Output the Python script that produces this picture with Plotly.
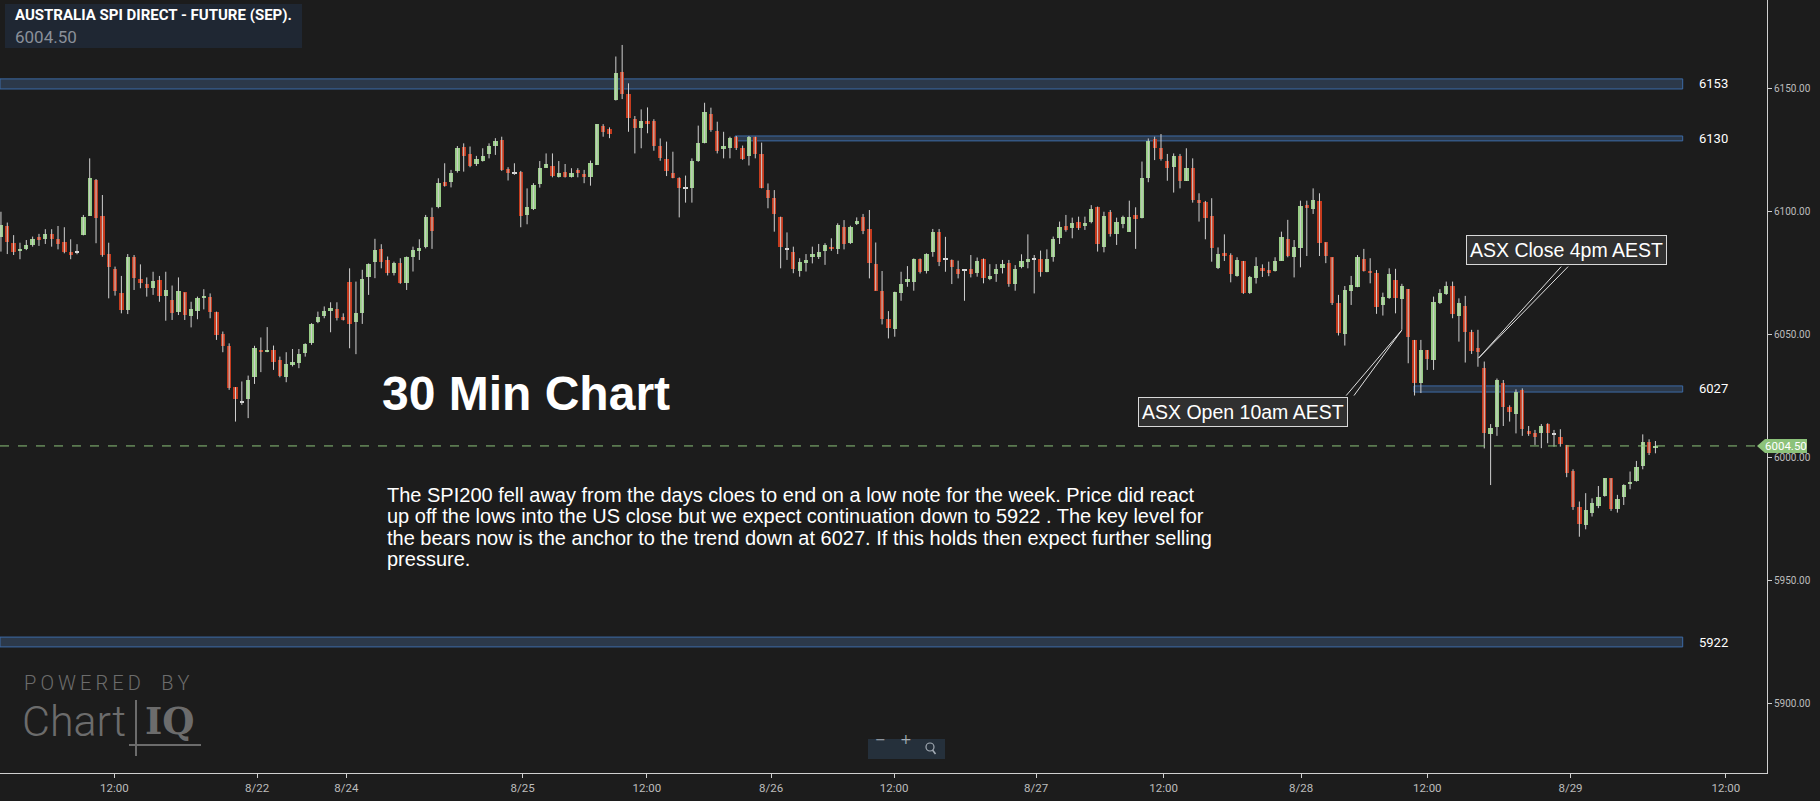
import plotly.graph_objects as go

# ---------------- data ----------------
TITLE = "AUSTRALIA SPI DIRECT - FUTURE (SEP)."
LAST = 6004.50

OPEN = [6089.6, 6093.9, 6086.9, 6083.7, 6084.4, 6086.3, 6089.4, 6088.8, 6090.7, 6088.6,
        6087.3, 6083.3, 6083.1, 6090.4, 6098.1, 6112.6, 6098.0, 6082.5, 6076.6, 6066.5,
        6059.8, 6081.4, 6072.4, 6070.3, 6068.6, 6072.0, 6065.6, 6063.8, 6058.8, 6066.9,
        6057.5, 6059.5, 6064.5, 6065.2, 6058.9, 6050.0, 6045.2, 6028.4, 6022.3, 6023.5,
        6032.4, 6043.5, 6042.6, 6043.5, 6039.4, 6032.4, 6037.4, 6038.4, 6042.2, 6046.2,
        6054.8, 6057.4, 6059.5, 6060.1, 6056.8, 6071.0, 6054.8, 6058.4, 6073.3, 6079.4,
        6084.5, 6080.1, 6074.7, 6078.8, 6070.6, 6081.5, 6083.9, 6085.5, 6097.4, 6101.5,
        6111.8, 6111.9, 6116.3, 6125.9, 6123.1, 6119.1, 6120.5, 6123.2, 6126.4, 6128.9,
        6117.0, 6115.3, 6115.7, 6098.4, 6100.8, 6111.0, 6117.6, 6118.3, 6114.0, 6115.7,
        6113.7, 6116.7, 6115.0, 6113.7, 6118.7, 6134.6, 6133.4, 6145.1, 6156.7, 6147.6,
        6137.3, 6133.9, 6136.6, 6136.6, 6126.4, 6121.2, 6115.4, 6113.3, 6109.2, 6109.5,
        6120.4, 6127.5, 6139.3, 6132.6, 6125.1, 6125.5, 6130.0, 6125.5, 6122.5, 6130.0,
        6123.1, 6108.5, 6105.4, 6097.7, 6084.4, 6083.5, 6075.8, 6078.7, 6081.2, 6081.4,
        6083.9, 6085.5, 6084.4, 6093.3, 6086.8, 6094.6, 6097.4, 6092.7, 6078.4, 6067.5,
        6056.1, 6051.9, 6066.5, 6071.2, 6071.2, 6080.5, 6075.7, 6083.4, 6091.6, 6080.1,
        6080.1, 6076.4, 6075.7, 6076.4, 6074.9, 6080.5, 6072.2, 6074.4, 6076.9, 6078.7,
        6070.2, 6077.3, 6079.4, 6080.1, 6080.4, 6075.3, 6081.4, 6088.9, 6093.9, 6093.2,
        6095.4, 6094.0, 6095.4, 6101.5, 6085.5, 6099.5, 6090.5, 6094.6, 6091.6, 6098.4,
        6097.3, 6113.6, 6129.3, 6125.5, 6120.3, 6118.0, 6122.4, 6112.3, 6117.4, 6104.5,
        6103.5, 6098.0, 6076.7, 6083.1, 6082.1, 6073.7, 6079.7, 6066.6, 6072.6, 6076.7,
        6076.0, 6075.8, 6079.8, 6088.7, 6081.5, 6085.1, 6102.4, 6100.7, 6104.1, 6087.3,
        6081.2, 6062.5, 6049.9, 6067.6, 6069.3, 6080.4, 6075.6, 6074.7, 6061.6, 6064.5,
        6072.0, 6064.1, 6068.3, 6047.6, 6030.2, 6043.5, 6039.5, 6062.5, 6066.3, 6069.5,
        6057.5, 6061.5, 6050.7, 6044.2, 6036.1, 6009.2, 6012.4, 6029.9, 6020.2, 6017.5,
        6027.3, 6010.6, 6009.6, 6009.6, 6013.4, 6009.2, 6008.0, 6004.9, 5994.3, 5979.6,
        5972.4, 5977.4, 5980.1, 5984.2, 5991.4, 5978.8, 5983.6, 5988.9, 5990.4, 5996.5,
        6006.3, 6003.5]

HIGH = [6099.7, 6095.3, 6090.2, 6087.1, 6088.2, 6089.6, 6090.7, 6092.6, 6092.6, 6093.9,
        6093.4, 6088.5, 6086.5, 6098.4, 6121.4, 6113.0, 6106.5, 6087.1, 6077.4, 6073.6,
        6082.5, 6082.1, 6078.3, 6073.0, 6075.3, 6073.6, 6075.3, 6069.7, 6073.0, 6066.9,
        6063.1, 6065.2, 6068.2, 6066.5, 6059.1, 6051.0, 6046.2, 6028.4, 6030.7, 6033.1,
        6045.2, 6048.6, 6052.8, 6045.3, 6040.8, 6042.6, 6043.9, 6043.9, 6046.2, 6054.4,
        6059.1, 6061.2, 6062.9, 6062.9, 6058.4, 6076.7, 6071.3, 6076.1, 6078.7, 6088.7,
        6086.5, 6081.5, 6079.4, 6080.8, 6081.5, 6085.5, 6088.5, 6098.4, 6101.4, 6113.3,
        6119.4, 6116.7, 6126.4, 6127.5, 6126.2, 6122.4, 6125.5, 6127.5, 6129.6, 6130.2,
        6117.8, 6119.4, 6116.3, 6109.2, 6111.3, 6120.3, 6123.4, 6123.4, 6120.3, 6119.1,
        6117.4, 6117.4, 6116.7, 6120.5, 6135.3, 6135.3, 6134.0, 6162.8, 6167.5, 6151.9,
        6138.6, 6141.3, 6142.1, 6137.3, 6129.5, 6128.2, 6124.1, 6113.7, 6114.4, 6121.4,
        6134.7, 6144.0, 6142.0, 6136.3, 6132.2, 6130.2, 6130.5, 6126.6, 6130.5, 6130.2,
        6127.8, 6111.2, 6108.5, 6097.7, 6091.3, 6085.5, 6080.8, 6082.5, 6085.5, 6086.6,
        6086.9, 6088.9, 6095.0, 6096.3, 6094.0, 6097.4, 6098.8, 6100.4, 6087.2, 6075.6,
        6059.3, 6067.2, 6075.3, 6077.6, 6080.7, 6080.7, 6082.8, 6092.7, 6092.7, 6089.5,
        6080.3, 6079.8, 6076.0, 6082.1, 6081.1, 6080.7, 6078.4, 6078.4, 6080.1, 6080.1,
        6078.0, 6082.4, 6090.5, 6082.1, 6083.9, 6084.4, 6089.6, 6095.7, 6098.4, 6097.3,
        6097.7, 6097.7, 6102.4, 6101.8, 6099.7, 6100.4, 6097.3, 6098.1, 6104.2, 6101.5,
        6120.1, 6129.5, 6130.2, 6131.3, 6123.2, 6123.4, 6123.2, 6125.5, 6121.4, 6107.2,
        6104.1, 6105.2, 6085.2, 6090.5, 6082.8, 6081.2, 6079.7, 6073.6, 6081.2, 6078.3,
        6079.4, 6081.2, 6091.6, 6096.4, 6088.2, 6104.2, 6104.2, 6109.2, 6107.2, 6087.3,
        6081.2, 6065.9, 6069.5, 6073.6, 6082.1, 6084.6, 6080.8, 6076.0, 6066.8, 6076.7,
        6076.5, 6070.4, 6068.3, 6047.6, 6047.6, 6043.5, 6065.2, 6068.2, 6071.3, 6071.3,
        6064.5, 6065.5, 6051.7, 6051.7, 6038.8, 6013.4, 6031.9, 6031.3, 6021.0, 6027.5,
        6027.9, 6012.6, 6011.0, 6013.4, 6013.7, 6011.0, 6011.3, 6004.9, 5995.0, 5981.9,
        5985.3, 5983.2, 5988.2, 5991.4, 5991.4, 5984.6, 5988.9, 5994.1, 5998.4, 6009.2,
        6007.2, 6006.5]

LOW = [6083.5, 6082.5, 6082.1, 6080.4, 6084.1, 6085.5, 6085.8, 6086.6, 6085.5, 6084.4,
       6082.8, 6080.4, 6082.4, 6090.1, 6098.1, 6086.9, 6081.4, 6064.5, 6065.6, 6058.4,
       6058.1, 6067.9, 6068.6, 6065.2, 6065.9, 6063.1, 6055.4, 6055.7, 6057.7, 6055.7,
       6052.7, 6056.0, 6060.0, 6056.4, 6047.6, 6042.6, 6027.3, 6014.4, 6021.2, 6015.8,
       6029.7, 6034.5, 6042.6, 6035.4, 6032.4, 6030.4, 6036.8, 6036.1, 6040.8, 6045.6,
       6054.4, 6056.4, 6050.7, 6055.5, 6055.5, 6044.2, 6041.8, 6054.1, 6065.9, 6072.7,
       6076.7, 6073.8, 6073.8, 6070.4, 6067.9, 6075.4, 6080.1, 6084.8, 6084.6, 6101.1,
       6109.9, 6109.6, 6115.6, 6116.0, 6117.8, 6118.3, 6120.1, 6121.4, 6122.8, 6116.3,
       6112.4, 6114.7, 6093.4, 6094.6, 6100.4, 6109.5, 6117.6, 6113.7, 6113.6, 6113.6,
       6113.6, 6113.7, 6111.3, 6110.3, 6118.7, 6130.2, 6129.6, 6144.9, 6145.5, 6132.2,
       6123.4, 6125.5, 6131.6, 6124.5, 6120.4, 6114.2, 6113.3, 6097.4, 6103.4, 6103.4,
       6120.0, 6127.5, 6132.2, 6123.4, 6121.4, 6121.4, 6124.8, 6120.8, 6118.5, 6121.4,
       6109.2, 6101.1, 6091.6, 6076.7, 6080.1, 6074.7, 6073.3, 6075.4, 6078.7, 6080.5,
       6078.1, 6083.8, 6082.5, 6084.4, 6086.6, 6094.3, 6090.6, 6072.6, 6067.6, 6053.9,
       6048.2, 6048.9, 6063.5, 6069.2, 6067.6, 6074.6, 6074.6, 6081.4, 6077.6, 6075.3,
       6070.3, 6072.6, 6063.5, 6073.0, 6073.3, 6070.6, 6071.9, 6071.2, 6074.6, 6069.2,
       6067.6, 6076.7, 6076.7, 6066.5, 6073.3, 6075.1, 6079.4, 6086.6, 6091.6, 6088.9,
       6092.3, 6092.3, 6095.0, 6083.5, 6083.2, 6089.6, 6086.2, 6093.0, 6091.6, 6084.6,
       6097.0, 6111.7, 6120.7, 6120.5, 6112.3, 6107.5, 6109.2, 6112.2, 6103.4, 6095.7,
       6088.5, 6079.4, 6076.4, 6079.7, 6071.0, 6073.3, 6066.3, 6066.3, 6070.5, 6073.2,
       6073.5, 6075.4, 6079.8, 6081.2, 6073.0, 6077.1, 6081.7, 6098.8, 6081.7, 6078.8,
       6061.8, 6049.4, 6045.3, 6061.8, 6069.0, 6075.4, 6070.6, 6058.2, 6057.5, 6064.3,
       6058.4, 6051.7, 6038.1, 6025.0, 6026.0, 6035.4, 6035.4, 6062.2, 6065.9, 6056.4,
       6046.9, 6038.4, 6041.9, 6036.7, 6003.5, 5988.6, 6008.6, 6012.6, 6014.4, 6009.6,
       6008.6, 6008.6, 6004.9, 6003.6, 6005.6, 6004.2, 6004.2, 5991.8, 5978.5, 5967.6,
       5970.6, 5975.8, 5979.2, 5983.9, 5978.1, 5977.4, 5980.5, 5986.9, 5990.0, 5995.0,
       6000.8, 6001.5]

CLOSE = [6094.3, 6087.5, 6083.5, 6084.6, 6086.0, 6088.5, 6088.4, 6090.5, 6088.8, 6086.7,
         6083.2, 6082.3, 6083.1, 6097.4, 6113.3, 6097.3, 6082.1, 6077.4, 6067.6, 6059.8,
         6081.4, 6072.6, 6070.9, 6068.6, 6071.5, 6065.6, 6067.8, 6058.4, 6067.5, 6057.9,
         6060.2, 6064.5, 6065.6, 6059.1, 6049.4, 6045.3, 6028.0, 6023.5, 6022.3, 6031.3,
         6044.2, 6042.6, 6043.5, 6038.8, 6033.1, 6037.8, 6038.5, 6041.8, 6046.0, 6054.1,
         6056.8, 6059.4, 6060.6, 6056.4, 6056.0, 6054.0, 6058.4, 6072.3, 6078.5, 6084.2,
         6079.4, 6074.7, 6078.8, 6070.6, 6081.5, 6084.2, 6085.1, 6097.4, 6092.0, 6111.3,
         6110.3, 6115.3, 6125.8, 6122.4, 6118.3, 6121.0, 6122.2, 6126.4, 6128.5, 6116.7,
         6115.6, 6115.3, 6098.1, 6101.5, 6110.6, 6117.6, 6119.1, 6114.3, 6115.3, 6114.0,
         6115.3, 6115.6, 6114.0, 6119.7, 6135.3, 6132.3, 6131.3, 6156.0, 6147.4, 6137.7,
         6133.6, 6136.6, 6135.4, 6126.6, 6121.4, 6116.4, 6113.6, 6109.5, 6109.2, 6120.3,
         6127.8, 6140.4, 6133.0, 6124.5, 6126.4, 6129.5, 6125.5, 6121.2, 6130.0, 6123.1,
         6109.5, 6105.4, 6098.6, 6085.5, 6084.4, 6076.4, 6079.4, 6080.1, 6082.5, 6083.2,
         6086.2, 6084.4, 6094.3, 6086.4, 6093.3, 6095.9, 6091.8, 6078.7, 6067.6, 6056.3,
         6052.5, 6067.2, 6070.3, 6072.3, 6080.5, 6075.3, 6082.4, 6091.6, 6079.4, 6080.1,
         6077.3, 6074.4, 6075.7, 6074.4, 6079.6, 6072.6, 6073.7, 6076.4, 6078.4, 6070.2,
         6076.4, 6079.6, 6080.5, 6080.1, 6075.3, 6080.4, 6088.6, 6093.4, 6092.3, 6095.0,
         6093.2, 6095.0, 6100.7, 6086.5, 6098.1, 6090.7, 6095.4, 6097.4, 6097.4, 6096.8,
         6113.3, 6128.6, 6125.5, 6121.1, 6117.6, 6122.4, 6112.3, 6117.4, 6104.5, 6103.4,
         6097.3, 6085.1, 6082.5, 6081.9, 6074.4, 6080.1, 6066.5, 6073.0, 6077.6, 6075.6,
         6075.2, 6079.7, 6089.3, 6081.7, 6085.3, 6102.1, 6101.1, 6104.5, 6086.9, 6081.9,
         6062.5, 6050.3, 6067.9, 6070.0, 6081.1, 6075.8, 6074.7, 6061.1, 6064.9, 6074.4,
         6064.5, 6069.5, 6048.6, 6030.2, 6043.5, 6039.7, 6062.9, 6066.6, 6069.7, 6058.2,
         6062.5, 6050.7, 6043.1, 6042.8, 6009.6, 6011.7, 6031.3, 6020.2, 6018.2, 6026.6,
         6011.3, 6009.2, 6008.3, 6012.6, 6009.6, 6009.2, 6005.2, 5993.4, 5979.8, 5972.8,
         5978.5, 5981.2, 5983.9, 5991.4, 5978.9, 5982.9, 5988.6, 5989.9, 5995.8, 6006.0,
         6001.8, 6004.5]

TICK_POS = [17.9, 40.4, 54.5, 82.3, 101.9, 121.5, 140.9, 163.3, 183.4, 205.1, 225.0, 247.6, 272.1]
TICK_TEXT = ["12:00", "8/22", "8/24", "8/25", "12:00", "8/26", "12:00", "8/27",
             "12:00", "8/28", "12:00", "8/29", "12:00"]
Y_TICKS = [5900, 5950, 6000, 6050, 6100, 6150]

LEVELS = [6153, 6130, 6027, 5922]
BAND_LO = [6149.6, 6128.5, 6026.4, 5922.8]
BAND_HI = [6153.7, 6130.5, 6028.9, 5926.8]
BAND_START = [-0.15, 115.8, 222.9, -0.15]
BAND_END = 265.3

NOTE_TITLE = "30 Min Chart"
NOTE_LINES = [
    "The SPI200 fell away from the days cloes to end on a low note for the week. Price did react",
    "up off the lows into the US close but we expect continuation down to 5922 . The key level for",
    "the bears now is the anchor to the trend down at 6027. If this holds then expect further selling",
    "pressure.",
]
CALLOUTS = [  # text, tip index, tip price, box index, box price
    ("ASX Close 4pm AEST", 233.1, 6040.2, 247.0, 6084.1),
    ("ASX Open 10am AEST", 221.0, 6051.6, 196.0, 6018.3),
]

X_RANGE = [-0.15, 278.6]
Y_RANGE = [5871.55, 6185.77]

# ---------------- style ----------------
W, H = 1820, 801
ML, MR, MT, MB = 0, 53, 0, 28
PW, PH = W - ML - MR, H - MT - MB
BG = "#1c1c1c"
UP = "#98cd86"
DN = "#c53b1e"
DOJI = "#d8d8d8"
WICK = "#cfcfcf"
AXIS = "#cfcfcf"
TICKC = "#bdbdbd"
BAND_FILL = "#2c394a"
BAND_LINE = "#3c6aa6"
PRICE_GREEN = "#8cc27a"
LOGO = "#6c6c6c"


def px(x):
    return x / PW


def py(y):
    return 1 - y / PH


n = len(OPEN)
idx = list(range(n))

fig = go.Figure()

# wicks
wx, wy = [], []
for i, (h, l) in enumerate(zip(HIGH, LOW)):
    wx += [i, i, None]
    wy += [h, l, None]
fig.add_trace(go.Scatter(x=wx, y=wy, mode="lines", line=dict(color=WICK, width=1),
                         hoverinfo="skip", showlegend=False))

# bodies
base = [min(o, c) for o, c in zip(OPEN, CLOSE)]
hgt = [max(abs(c - o), 0.4) for o, c in zip(OPEN, CLOSE)]
cols = [UP if c > o else (DN if c < o else DOJI) for o, c in zip(OPEN, CLOSE)]
fig.add_trace(go.Bar(x=idx, y=hgt, base=base, width=0.68,
                     marker=dict(color=cols, line=dict(width=0)),
                     hoverinfo="skip", showlegend=False))

shapes = []
annotations = []

# level bands
for lv, lo, hi, x0 in zip(LEVELS, BAND_LO, BAND_HI, BAND_START):
    shapes.append(dict(type="rect", xref="x", yref="y", x0=x0, x1=BAND_END, y0=lo, y1=hi,
                       fillcolor=BAND_FILL, line=dict(color=BAND_LINE, width=1), layer="below"))
    annotations.append(dict(xref="x", yref="y", x=BAND_END + 2.3, y=(lo + hi) / 2,
                            text=str(lv), showarrow=False, xanchor="left", yanchor="middle",
                            font=dict(family="Roboto", size=13, color="#ffffff")))

# current price dashed line + label
shapes.append(dict(type="line", xref="paper", yref="y", x0=0, x1=px(1757), y0=LAST, y1=LAST,
                   line=dict(color=PRICE_GREEN, width=1, dash="dash")))
d = 2.85
shapes.append(dict(type="path", xref="paper", yref="y", layer="above",
                   path=(f"M {px(1757)},{LAST} L {px(1765)},{LAST + d} L {px(1807)},{LAST + d} "
                         f"L {px(1807)},{LAST - d} L {px(1765)},{LAST - d} Z"),
                   fillcolor=PRICE_GREEN, line=dict(width=0)))
annotations.append(dict(xref="paper", yref="y", x=px(1786), y=LAST, text=f"{LAST:.2f}",
                        showarrow=False, xanchor="center", yanchor="middle",
                        font=dict(family="Roboto", size=11.5, color="#ffffff")))

# title box
shapes.append(dict(type="rect", xref="paper", yref="paper", x0=px(5), x1=px(302), y0=py(4), y1=py(48),
                   fillcolor="#1f2733", line=dict(width=0), layer="above"))
annotations.append(dict(xref="paper", yref="paper", x=px(13), y=py(15), text=f"<b>{TITLE}</b>",
                        showarrow=False, xanchor="left", yanchor="middle",
                        font=dict(family="Roboto", size=15, color="#ffffff")))
annotations.append(dict(xref="paper", yref="paper", x=px(13), y=py(37), text=f"{LAST:.2f}",
                        showarrow=False, xanchor="left", yanchor="middle",
                        font=dict(family="Roboto", size=17, color="#8a9099")))

# big title + commentary (one annotation per line for tight line spacing)
annotations.append(dict(xref="paper", yref="paper", x=px(380), y=py(393), text=f"<b>{NOTE_TITLE}</b>",
                        showarrow=False, xanchor="left", yanchor="middle",
                        font=dict(family="Liberation Sans", size=48, color="#ffffff")))
LINE_Y = [494.5, 516.0, 537.5, 559.0]
for line, ly in zip(NOTE_LINES, LINE_Y):
    annotations.append(dict(xref="paper", yref="paper", x=px(386), y=py(ly), text=line,
                            showarrow=False, xanchor="left", yanchor="middle", align="left",
                            borderpad=0,
                            font=dict(family="Liberation Sans", size=20, color="#ffffff")))

# callouts
for text, tx, ty, bx, by in CALLOUTS:
    annotations.append(dict(xref="x", yref="y", x=bx, y=by, text=text, showarrow=False,
                            xanchor="center", yanchor="middle",
                            font=dict(family="Liberation Sans", size=19.5, color="#ffffff"),
                            bgcolor="#303030", bordercolor="#d8d8d8", borderwidth=1, borderpad=3))
ARROW_OFFSETS = [[(84, -93), (91, -93)], [(-57, 67), (-49, 67)]]
for (text, tx, ty, bx, by), offs in zip(CALLOUTS, ARROW_OFFSETS):
    for ax, ay in offs:
        annotations.append(dict(xref="x", yref="y", x=tx, y=ty, text="", showarrow=True,
                                ax=ax, ay=ay, arrowhead=0, arrowwidth=1, arrowcolor="#e0e0e0"))

# logo
annotations.append(dict(xref="paper", yref="paper", x=px(23), y=py(683),
                        text="P\u2009O\u2009W\u2009E\u2009R\u2009E\u2009D\u2003B\u2009Y",
                        showarrow=False, xanchor="left", yanchor="middle", borderpad=0,
                        font=dict(family="Roboto", size=20, color=LOGO, weight=300)))
annotations.append(dict(xref="paper", yref="paper", x=px(21), y=py(721), text="Chart",
                        showarrow=False, xanchor="left", yanchor="middle", borderpad=0,
                        font=dict(family="Roboto", size=43, color=LOGO, weight=300)))
annotations.append(dict(xref="paper", yref="paper", x=px(144), y=py(721), text="<b>IQ</b>",
                        showarrow=False, xanchor="left", yanchor="middle", borderpad=0,
                        font=dict(family="DejaVu Serif", size=37, color=LOGO)))
shapes.append(dict(type="line", xref="paper", yref="paper", x0=px(136), x1=px(136), y0=py(700), y1=py(756),
                   line=dict(color=LOGO, width=2)))
shapes.append(dict(type="line", xref="paper", yref="paper", x0=px(129), x1=px(201), y0=py(745), y1=py(745),
                   line=dict(color=LOGO, width=2)))

# zoom control
shapes.append(dict(type="rect", xref="paper", yref="paper", x0=px(868), x1=px(945), y0=py(739), y1=py(759),
                   fillcolor="#25303b", line=dict(width=0), layer="above"))
annotations.append(dict(xref="paper", yref="paper", x=px(880), y=py(749), text="\u2212",
                        showarrow=False, font=dict(family="DejaVu Sans", size=13, color="#a3abb4")))
annotations.append(dict(xref="paper", yref="paper", x=px(906), y=py(749), text="+",
                        showarrow=False, font=dict(family="DejaVu Sans", size=14, color="#a3abb4")))
shapes.append(dict(type="circle", xref="paper", yref="paper", x0=px(926), x1=px(934), y0=py(743), y1=py(751),
                   line=dict(color="#a3abb4", width=1.2), layer="above"))
shapes.append(dict(type="line", xref="paper", yref="paper", x0=px(932.5), x1=px(935.5), y0=py(750), y1=py(754),
                   line=dict(color="#a3abb4", width=1.5), layer="above"))

fig.update_layout(
    width=W, height=H, autosize=False,
    margin=dict(l=ML, r=MR, t=MT, b=MB, pad=0),
    paper_bgcolor=BG, plot_bgcolor=BG,
    showlegend=False, bargap=0,
    shapes=shapes, annotations=annotations,
    xaxis=dict(range=X_RANGE, tickmode="array", tickvals=TICK_POS, ticktext=TICK_TEXT,
               showgrid=False, zeroline=False, showline=True, linecolor=AXIS, linewidth=1,
               ticks="outside", ticklen=4, tickcolor=AXIS,
               tickfont=dict(family="Roboto", size=11.5, color=TICKC), fixedrange=True),
    yaxis=dict(range=Y_RANGE, side="right", tickmode="array", tickvals=Y_TICKS,
               ticktext=[f"{v:.2f}" for v in Y_TICKS],
               showgrid=False, zeroline=False, showline=True, linecolor=AXIS, linewidth=1,
               ticks="outside", ticklen=4, tickcolor=AXIS,
               tickfont=dict(family="Roboto", size=10, color=TICKC), fixedrange=True),
)

fig.write_html("out.html", config={"displayModeBar": False},
               post_script="document.body.style.margin='0';document.body.style.background='#1c1c1c';")
